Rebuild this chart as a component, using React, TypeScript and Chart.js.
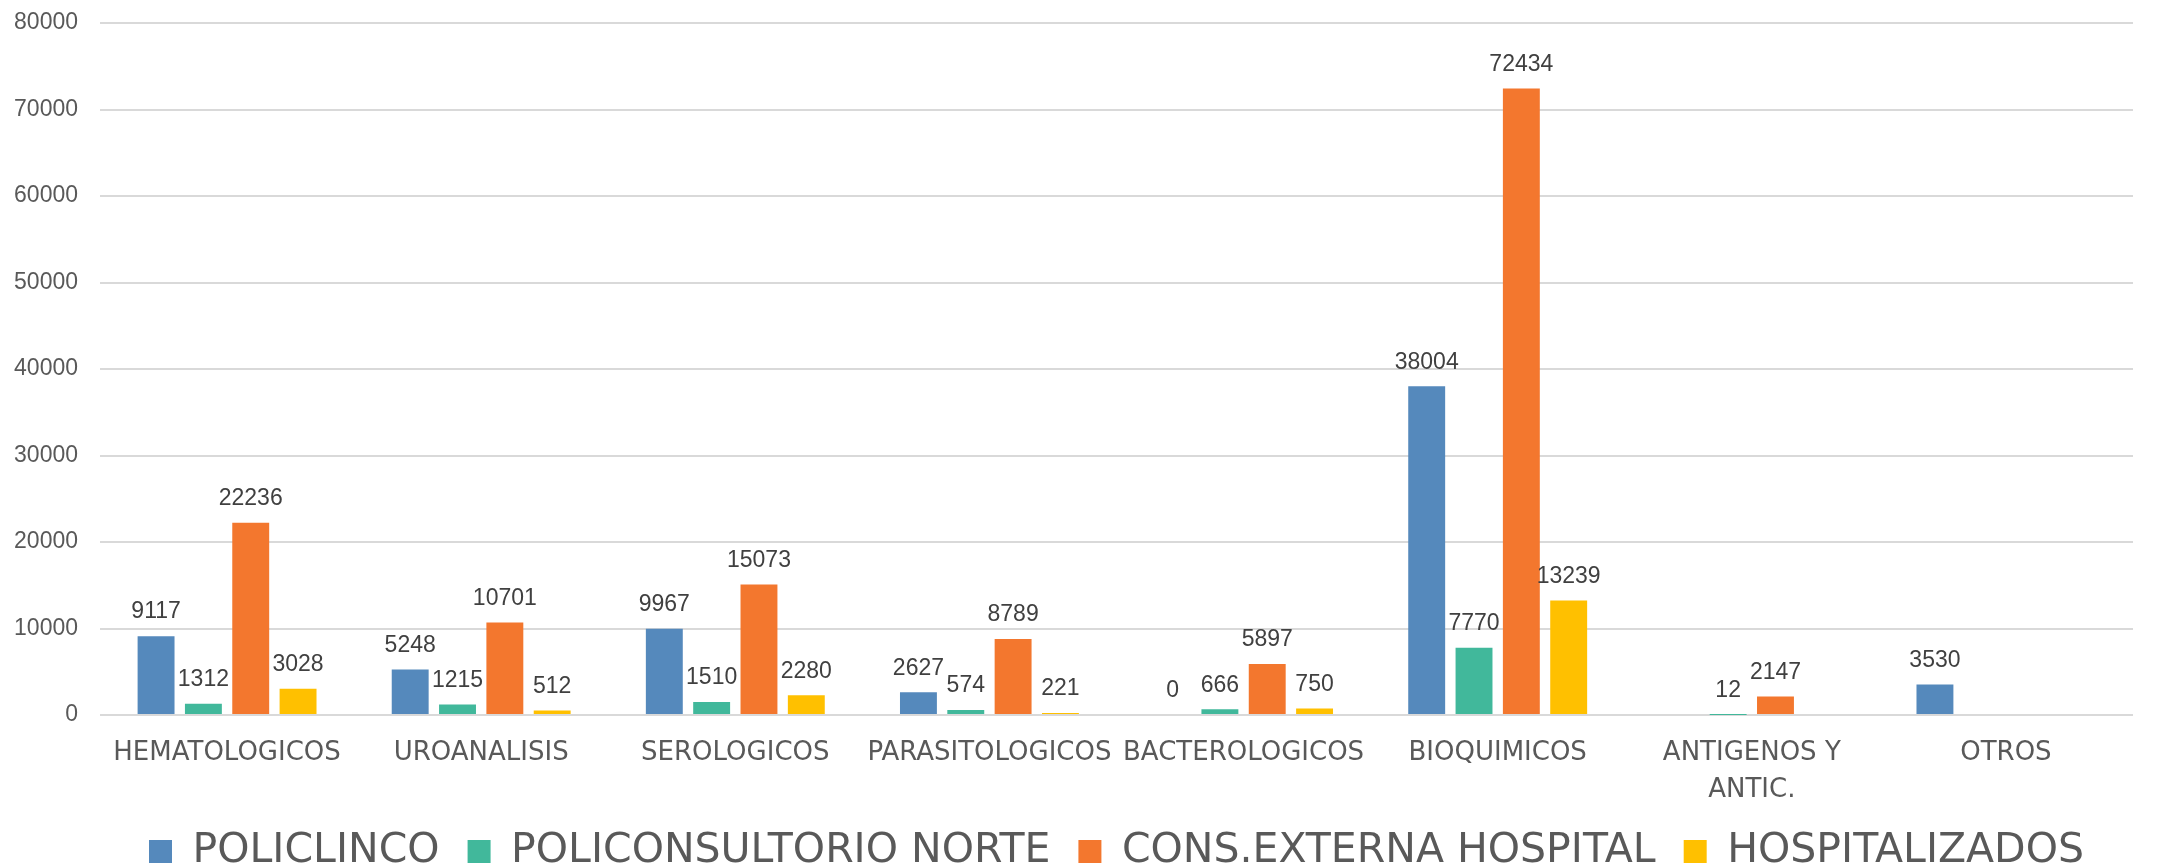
import React, { useEffect, useRef } from "react";
import { Chart, registerables } from "chart.js";

Chart.register(...registerables);

const categories: (string | string[])[] = [
  "HEMATOLOGICOS",
  "UROANALISIS",
  "SEROLOGICOS",
  "PARASITOLOGICOS",
  "BACTEROLOGICOS",
  "BIOQUIMICOS",
  ["ANTIGENOS Y", "ANTIC."],
  "OTROS",
];

const seriesNames = [
  "POLICLINCO",
  "POLICONSULTORIO NORTE",
  "CONS.EXTERNA HOSPITAL",
  "HOSPITALIZADOS",
];

const policlinco: (number | null)[] = [9117, 5248, 9967, 2627, 0, 38004, null, 3530];
const policonsultorioNorte: (number | null)[] = [1312, 1215, 1510, 574, 666, 7770, 12, null];
const consExternaHospital: (number | null)[] = [22236, 10701, 15073, 8789, 5897, 72434, 2147, null];
const hospitalizados: (number | null)[] = [3028, 512, 2280, 221, 750, 13239, null, null];

const colors = ["#5589bc", "#41b89b", "#f3772e", "#ffc000"];

const yMin = 0;
const yMax = 80000;
const yStep = 10000;

const valueLabels = {
  id: "valueLabels",
  afterDatasetsDraw(chart: any) {
    const ctx = chart.ctx;
    ctx.save();
    ctx.font = '23px "Liberation Sans", Arial, sans-serif';
    ctx.fillStyle = "#404040";
    ctx.textAlign = "center";
    ctx.textBaseline = "middle";
    chart.data.datasets.forEach((ds: any, i: number) => {
      const meta = chart.getDatasetMeta(i);
      meta.data.forEach((bar: any, j: number) => {
        const v = ds.data[j];
        if (v === null || v === undefined) return;
        ctx.fillText(String(v), bar.x, bar.y - 24);
      });
    });
    ctx.restore();
  },
};

export default function App() {
  const ref = useRef<HTMLCanvasElement | null>(null);

  useEffect(() => {
    if (!ref.current) return;
    const allSeries = [policlinco, policonsultorioNorte, consExternaHospital, hospitalizados];
    const chart = new Chart(ref.current, {
      type: "bar",
      data: {
        labels: categories as any,
        datasets: allSeries.map((d, i) => ({
          label: seriesNames[i],
          data: d,
          backgroundColor: colors[i],
          borderWidth: 0,
          categoryPercentage: 0.745,
          barPercentage: 0.78,
        })),
      },
      options: {
        responsive: false,
        animation: false,
        devicePixelRatio: 1,
        layout: { padding: { left: 0, right: 28, top: 23, bottom: -16 } },
        plugins: {
          tooltip: { enabled: false },
          legend: {
            position: "bottom",
            fullSize: false,
            labels: {
              boxWidth: 23,
              boxHeight: 23,
              padding: 28,
              color: "#595959",
              font: { family: '"DejaVu Sans", sans-serif', size: 41 },
            },
          },
        },
        scales: {
          x: {
            grid: { display: false, drawTicks: false },
            border: { display: false },
            ticks: {
              autoSkip: false,
              maxRotation: 0,
              minRotation: 0,
              padding: 20,
              color: "#595959",
              font: { family: '"DejaVu Sans", sans-serif', size: 26, lineHeight: 1.42 },
            },
            afterFit: (s: any) => {
              s.height = 88;
            },
          },
          y: {
            min: yMin,
            max: yMax,
            grid: {
              color: "#d9d9d9",
              lineWidth: 2,
              drawTicks: true,
              tickLength: 22,
              tickColor: "rgba(0,0,0,0)",
            },
            border: { display: false },
            ticks: {
              stepSize: yStep,
              padding: 0,
              color: "#595959",
              font: { family: '"Liberation Sans", Arial, sans-serif', size: 23 },
              callback: (v: any) => String(v),
            },
            afterFit: (s: any) => {
              s.width = 100;
            },
          },
        },
      },
      plugins: [valueLabels],
    });
    return () => chart.destroy();
  }, []);

  return (
    <div style={{ position: "absolute", left: 0, top: 0, width: 2161, height: 866 }}>
      <canvas ref={ref} width={2161} height={866} style={{ display: "block" }} />
    </div>
  );
}
